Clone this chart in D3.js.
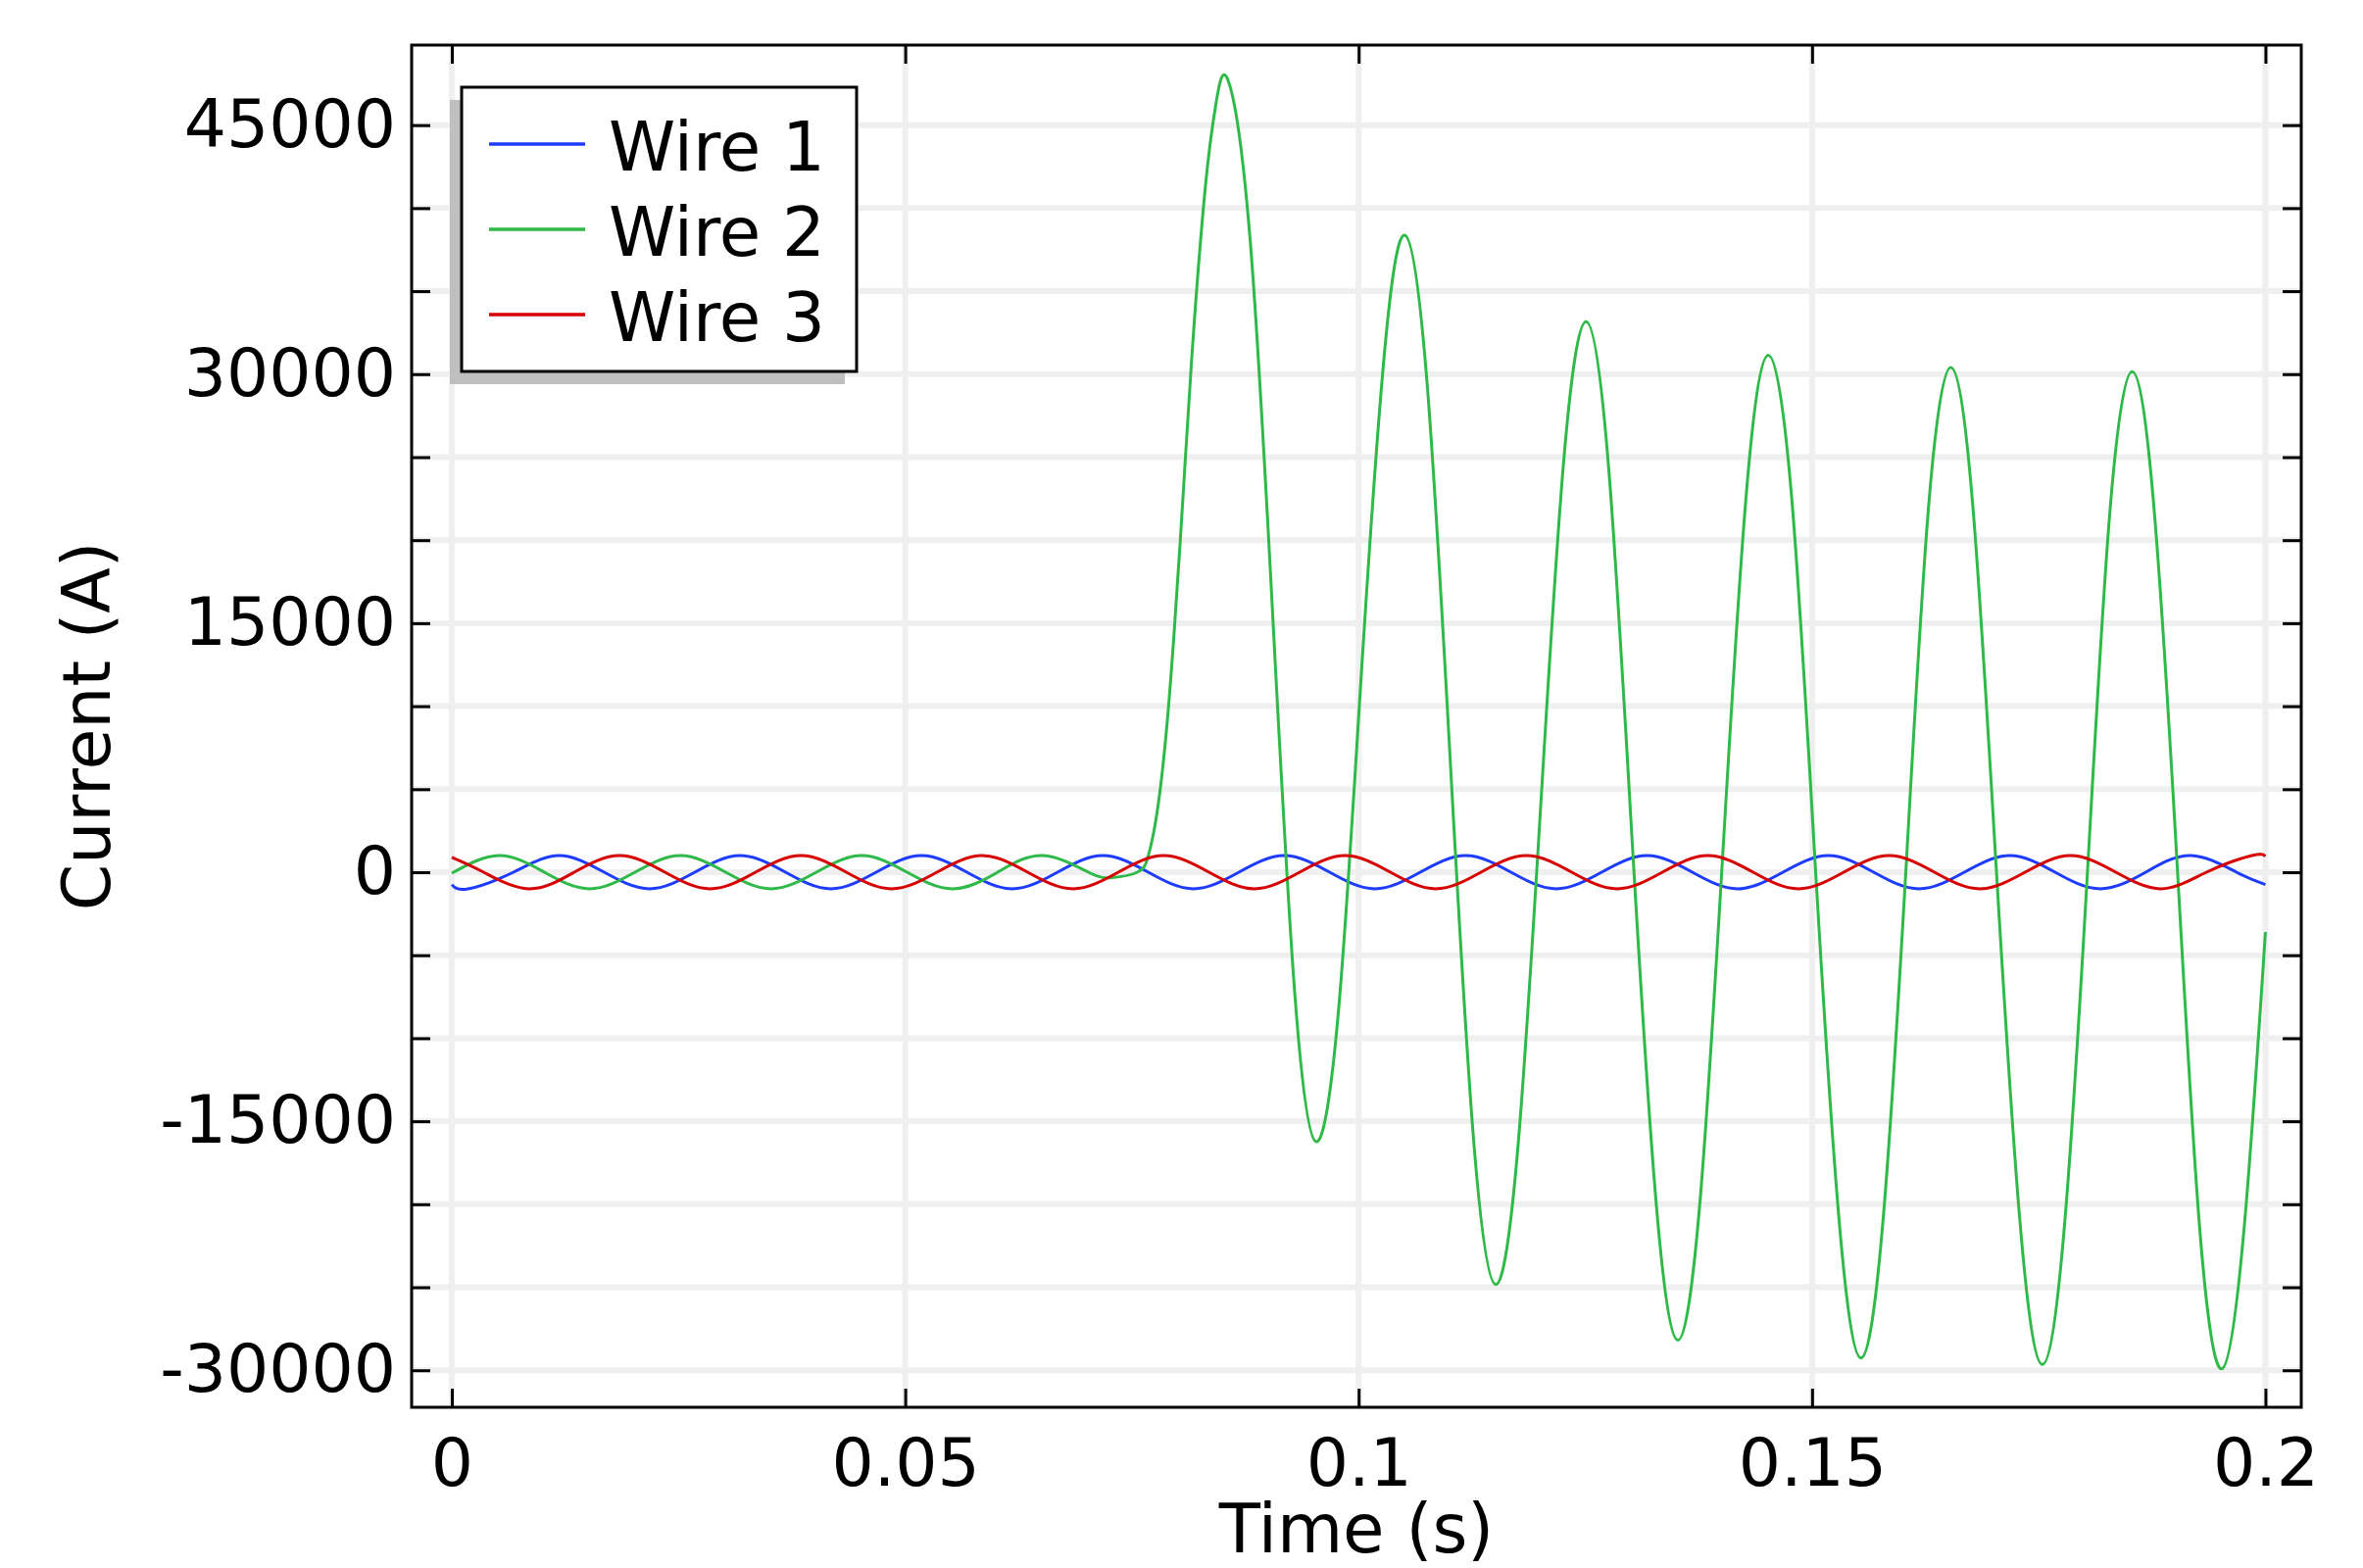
<html>
<head>
<meta charset="utf-8">
<script src="https://cdn.jsdelivr.net/npm/d3@7"></script>
<style>
body{
	margin: 0;
	background: #fff;
}
text {
	font-family: "DejaVu Sans", sans-serif;
	fill: #000;
}
.grid line {
	stroke: #efefef;
	stroke-width: 6;
}
.axis line {
	stroke: #000;
	stroke-width: 3;
}
.axis text {
	font-size: 68px;
}
.wire {
	fill: none;
	stroke-width: 3;
}
</style>
</head>
<body>
<svg id="chart" width="2411" height="1600"></svg>

<script>
// time (s), current (A)
var wire1 = [
	[0,-750],[0.0018,-1000],[0.0068,0],[0.0118,1000],[0.0168,0],[0.0218,-1000],[0.0268,0],[0.0318,1000],
	[0.0368,0],[0.0418,-1000],[0.0468,0],[0.0518,1000],[0.0568,0],[0.0618,-1000],[0.0668,0],[0.0718,1000],
	[0.0768,0],[0.0818,-1000],[0.0868,0],[0.0918,1000],[0.0968,0],[0.1018,-1000],[0.1068,0],[0.1118,1000],
	[0.1168,0],[0.1218,-1000],[0.1268,0],[0.1318,1000],[0.1368,0],[0.1418,-1000],[0.1468,0],[0.1518,1000],
	[0.1568,0],[0.1618,-1000],[0.1668,0],[0.1718,1000],[0.1768,0],[0.1818,-1000],[0.1868,0],[0.1918,1000],
	[0.1968,0],[0.2,-750]
];

var wire2 = [
	[0,-60],[0.0052,1000],[0.0102,0],[0.0152,-1000],[0.0202,0],[0.0252,1000],[0.0302,0],[0.0352,-1000],
	[0.0402,0],[0.0452,1000],[0.0502,0],[0.0552,-1000],[0.0602,0],[0.0652,1000],[0.0702,0],[0.0728,-330],
	[0.0756,0],[0.0767,790],[0.0774,2400],[0.0781,4900],[0.0788,8500],[0.0796,14000],
	[0.0806,22300],[0.0816,31000],[0.0831,41300],[0.0843,46400],[0.0856,47700],
	[0.0880,38340],[0.0905,15740],[0.0929,-6870],[0.0953,-16230],
	[0.0978,-8230],[0.1002,11070],[0.1027,30370],[0.1051,38370],
	[0.1076,29110],[0.1101,6770],[0.1126,-15570],[0.1151,-24830],
	[0.1176,-16340],[0.1201,4170],[0.1226,24670],[0.1251,33160],
	[0.1276,24170],[0.1301,2490],[0.1327,-19190],[0.1352,-28180],
	[0.1377,-19490],[0.1402,1480],[0.1427,22440],[0.1452,31130],
	[0.1478,22280],[0.1503,940],[0.1529,-20410],[0.1554,-29260],
	[0.1579,-20520],[0.1604,570],[0.1628,21660],[0.1653,30400],
	[0.1678,21600],[0.1703,380],[0.1729,-20850],[0.1754,-29650],
	[0.1779,-20890],[0.1804,250],[0.1828,21390],[0.1853,30150],
	[0.1878,21350],[0.1903,120],[0.1927,-21110],[0.1952,-29910],
	[0.1977,-21130],[0.2,-3600]
];

var wire3 = [
	[0,890],[0.0035,0],[0.0085,-1000],[0.0135,0],[0.0185,1000],[0.0235,0],[0.0285,-1000],[0.0335,0],
	[0.0385,1000],[0.0435,0],[0.0485,-1000],[0.0535,0],[0.0585,1000],[0.0635,0],[0.0685,-1000],[0.0735,0],
	[0.0785,1000],[0.0835,0],[0.0885,-1000],[0.0935,0],[0.0985,1000],[0.1035,0],[0.1085,-1000],[0.1135,0],
	[0.1185,1000],[0.1235,0],[0.1285,-1000],[0.1335,0],[0.1385,1000],[0.1435,0],[0.1485,-1000],[0.1535,0],
	[0.1585,1000],[0.1635,0],[0.1685,-1000],[0.1735,0],[0.1785,1000],[0.1835,0],[0.1885,-1000],[0.1935,0],
	[0.1985,1000],[0.2,960]
];

var seriesNames = ["Wire 1", "Wire 2", "Wire 3"];
var seriesColors = ["#1e3cff", "#2fb948", "#d60000"];

var xTicks = [0, 0.05, 0.1, 0.15, 0.2];
var xTickLabels = ["0", "0.05", "0.1", "0.15", "0.2"];
var yLabelTicks = [-30000, -15000, 0, 15000, 30000, 45000];
var yTickLabels = ["-30000", "-15000", "0", "15000", "30000", "45000"];

var frame = {left: 420, top: 46, right: 2348, bottom: 1436};

var x = d3.scaleLinear().domain([-0.00443, 0.20395]).range([frame.left, frame.right]);
var y = d3.scaleLinear().domain([-32230, 49820]).range([frame.bottom, frame.top]);
var yMinor = y.ticks(16); // every 5000 A

var svg = d3.select("#chart");

svg.append("clipPath").attr("id", "plotclip")
	.append("rect")
	.attr("x", frame.left).attr("y", frame.top)
	.attr("width", frame.right - frame.left).attr("height", frame.bottom - frame.top);

// grid
var grid = svg.append("g").attr("class", "grid").attr("clip-path", "url(#plotclip)");
grid.selectAll("line.h").data(yMinor).enter().append("line")
	.attr("class", "h")
	.attr("x1", frame.left).attr("x2", frame.right)
	.attr("y1", function(d) { return y(d); }).attr("y2", function(d) { return y(d); });
grid.selectAll("line.v").data(xTicks).enter().append("line")
	.attr("class", "v")
	.attr("y1", frame.top).attr("y2", frame.bottom)
	.attr("x1", function(d) { return x(d); }).attr("x2", function(d) { return x(d); });

// curves
var line = d3.line()
	.x(function(d) { return x(d[0]); })
	.y(function(d) { return y(d[1]); })
	.curve(d3.curveNatural);

var plot = svg.append("g").attr("clip-path", "url(#plotclip)");
[wire1, wire2, wire3].forEach(function(s, i) {
	plot.append("path")
		.attr("class", "wire")
		.attr("stroke", seriesColors[i])
		.attr("d", line(s));
});

// axes, ticks pointing inward
var tickLen = 19;
var bottomAxis = d3.axisBottom(x).tickValues(xTicks)
	.tickFormat(function(d, i) { return xTickLabels[i]; })
	.tickSizeInner(-tickLen).tickSizeOuter(0).tickPadding(32);
var topAxis = d3.axisTop(x).tickValues(xTicks).tickFormat("")
	.tickSizeInner(-tickLen).tickSizeOuter(0);
var leftAxis = d3.axisLeft(y).tickValues(yMinor)
	.tickFormat(function(d) {
		var k = yLabelTicks.indexOf(d);
		return k < 0 ? "" : yTickLabels[k];
	})
	.tickSizeInner(-tickLen).tickSizeOuter(0).tickPadding(16);
var rightAxis = d3.axisRight(y).tickValues(yMinor).tickFormat("")
	.tickSizeInner(-tickLen).tickSizeOuter(0);

svg.append("g").attr("class", "axis")
	.attr("transform", "translate(0," + frame.bottom + ")").call(bottomAxis);
svg.append("g").attr("class", "axis")
	.attr("transform", "translate(0," + frame.top + ")").call(topAxis);
svg.append("g").attr("class", "axis")
	.attr("transform", "translate(" + frame.left + ",0)").call(leftAxis);
svg.append("g").attr("class", "axis")
	.attr("transform", "translate(" + frame.right + ",0)").call(rightAxis);
svg.selectAll(".axis .domain").remove();
svg.selectAll(".axis text").attr("font-family", null).attr("font-size", null);

svg.append("rect")
	.attr("x", frame.left).attr("y", frame.top)
	.attr("width", frame.right - frame.left).attr("height", frame.bottom - frame.top)
	.attr("fill", "none").attr("stroke", "#000").attr("stroke-width", 3);

// axis titles
svg.append("text")
	.attr("x", (frame.left + frame.right) / 2).attr("y", 1584)
	.attr("text-anchor", "middle").style("font-size", "69px")
	.text("Time (s)");
svg.append("text")
	.attr("transform", "translate(112," + ((frame.top + frame.bottom) / 2) + ") rotate(-90)")
	.attr("text-anchor", "middle").style("font-size", "68px")
	.text("Current (A)");

// legend
var legend = svg.append("g").attr("transform", "translate(471,89)");
legend.append("rect")
	.attr("x", -12).attr("y", 13).attr("width", 403).attr("height", 290)
	.attr("fill", "#bfbfbf");
legend.append("rect")
	.attr("width", 403).attr("height", 290)
	.attr("fill", "#fff").attr("stroke", "#000").attr("stroke-width", 3);
var item = legend.selectAll("g.item").data(seriesNames).enter().append("g")
	.attr("class", "item")
	.attr("transform", function(d, i) { return "translate(0," + (58 + i * 87) + ")"; });
item.append("line")
	.attr("x1", 28).attr("x2", 126)
	.attr("stroke", function(d, i) { return seriesColors[i]; })
	.attr("stroke-width", 3.5);
item.append("text")
	.attr("x", 150).attr("y", 27)
	.style("font-size", "69px")
	.text(function(d) { return d; });
</script>
</body>
</html>
